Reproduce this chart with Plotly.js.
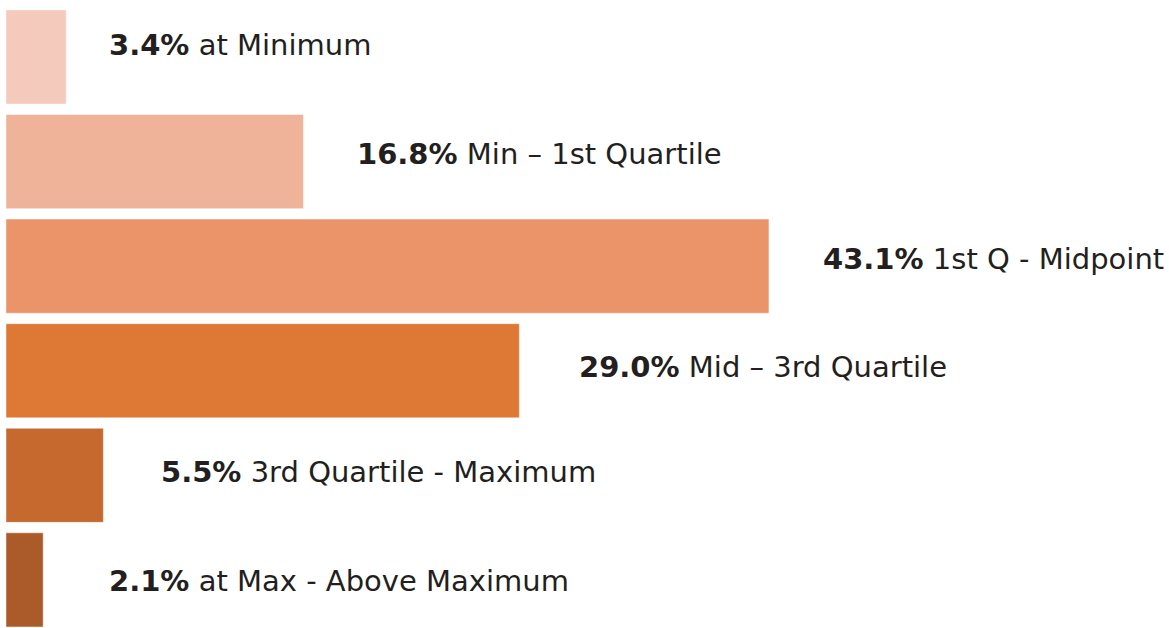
<!DOCTYPE html>
<html>
<head>
<meta charset="utf-8">
<script src="https://cdn.plot.ly/plotly-3.0.1.min.js"></script>
<style>html,body{margin:0;padding:0;background:#fff;}#chart{width:1169px;height:628px;}</style>
</head>
<body>
<div id="chart"></div>
<script>
var categories = ["at Minimum", "Min \u2013 1st Quartile", "1st Q - Midpoint", "Mid \u2013 3rd Quartile", "3rd Quartile - Maximum", "at Max - Above Maximum"];
var values = [3.4, 16.8, 43.1, 29.0, 5.5, 2.1];
var barColors = ["#F4CABD", "#EFB39A", "#EB9369", "#DE7835", "#C5692F", "#AB5A29"];

var trace = {
  type: "bar",
  orientation: "h",
  y: categories,
  x: values,
  marker: {color: barColors, line: {width: 1, color: "rgba(255,255,255,0.45)"}},
  hoverinfo: "none"
};

// label placement tweaks (pixels), styling only
var labelDx = [41, 52, 52, 58, 56, 64];
var labelDy = [12, 8, 7, 4, 3, -1];

var annotations = categories.map(function (c, i) {
  return {
    x: values[i], y: c, xref: "x", yref: "y",
    text: "<b>" + values[i].toFixed(1) + "%</b> " + c,
    showarrow: false, xanchor: "left", yanchor: "middle",
    xshift: labelDx[i], yshift: labelDy[i],
    font: {family: "DejaVu Sans", size: 29, color: "#231F20"}
  };
});

var layout = {
  width: 1169, height: 628,
  margin: {l: 6, r: 0, t: 0, b: 0},
  paper_bgcolor: "#ffffff", plot_bgcolor: "#ffffff",
  bargap: 0.1,
  showlegend: false,
  xaxis: {range: [0, 65.7], visible: false, fixedrange: true},
  yaxis: {type: "category", range: [5.46, -0.545], visible: false, fixedrange: true},
  annotations: annotations
};

Plotly.newPlot("chart", [trace], layout, {displayModeBar: false, staticPlot: true});
</script>
</body>
</html>
